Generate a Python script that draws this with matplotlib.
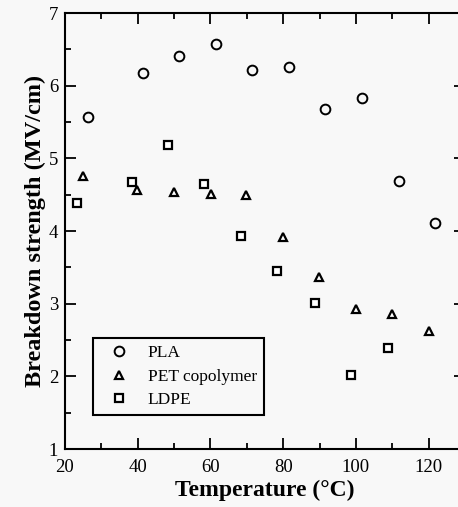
import matplotlib
matplotlib.use("Agg")
import matplotlib.pyplot as plt
from matplotlib.ticker import MultipleLocator

plt.rcParams['font.family'] = ['Liberation Serif', 'DejaVu Serif']

# ==============================
# DATA
# ==============================
pla_T = [26.2, 41.5, 51.4, 61.6, 71.4, 81.6, 91.6, 101.7, 111.8, 121.7]
pla_E = [5.57, 6.17, 6.41, 6.57, 6.21, 6.26, 5.68, 5.83, 4.69, 4.11]

pet_T = [25.0, 39.9, 50.1, 60.1, 69.9, 80.0, 89.9, 100.0, 110.0, 120.0]
pet_E = [4.76, 4.56, 4.54, 4.51, 4.50, 3.92, 3.37, 2.93, 2.86, 2.62]

ldpe_T = [23.4, 38.5, 48.4, 58.3, 68.4, 78.3, 88.8, 98.6, 108.7]
ldpe_E = [4.39, 4.68, 5.19, 4.64, 3.93, 3.45, 3.01, 2.02, 2.39]

labels = ["PLA", "PET copolymer", "LDPE"]

# ==============================
# PLOT
# ==============================
fig = plt.figure(figsize=(4.58, 5.07), dpi=100)
fig.patch.set_facecolor("#f8f8f8")
ax = fig.add_axes([65/458, 58/507, 400/458, 436/507])
ax.set_facecolor("#f8f8f8")

ax.plot(pla_T, pla_E, 'o', ms=7, mfc='none', mec='black', mew=1.4, label=labels[0])
ax.plot(pet_T, pet_E, '^', ms=6, mfc='white', mec='black', mew=1.6, label=labels[1])
ax.plot(ldpe_T, ldpe_E, 's', ms=6, mfc='white', mec='black', mew=1.6, label=labels[2])

ax.set_xlim(20, 130)
ax.set_ylim(1, 7)
ax.xaxis.set_major_locator(MultipleLocator(20))
ax.xaxis.set_minor_locator(MultipleLocator(10))
ax.yaxis.set_major_locator(MultipleLocator(1))
ax.yaxis.set_minor_locator(MultipleLocator(0.5))
ax.tick_params(which='both', direction='in', top=True, right=True,
               width=1.3, labelsize=13.5, pad=5)
ax.tick_params(axis='x', pad=7)
ax.tick_params(which='major', length=8)
ax.tick_params(which='minor', length=4)
for s in ax.spines.values():
    s.set_linewidth(1.5)

ax.set_xlabel("Temperature (°C)", fontsize=17, fontweight='bold', labelpad=3)
ax.set_ylabel("Breakdown strength (MV/cm)", fontsize=17.5, fontweight='bold', labelpad=2)

leg = ax.legend(loc='lower left', bbox_to_anchor=(0.07, 0.078), fontsize=12.5,
                fancybox=False, edgecolor='black', framealpha=1,
                facecolor='#f8f8f8', borderaxespad=0, handletextpad=0.55,
                labelspacing=0.42, handlelength=2.2, borderpad=0.4)
leg.get_frame().set_linewidth(1.5)

fig.savefig("out.png", dpi=100, facecolor=fig.get_facecolor())
